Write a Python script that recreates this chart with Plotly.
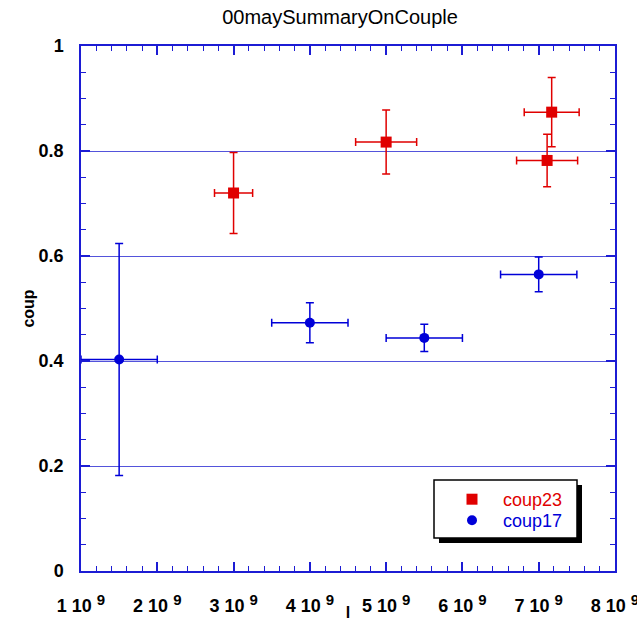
import plotly.graph_objects as go

# ---- data ----
x23 = [3.0e9, 5.0e9, 7.11e9, 7.17e9]
y23 = [0.720, 0.817, 0.782, 0.874]
ex23 = [0.25e9, 0.40e9, 0.40e9, 0.36e9]
ey23 = [0.077, 0.061, 0.050, 0.066]

x17 = [1.5e9, 4.0e9, 5.5e9, 7.0e9]
y17 = [0.403, 0.473, 0.444, 0.565]
ex17 = [0.5e9, 0.5e9, 0.5e9, 0.5e9]
ey17 = [0.221, 0.038, 0.026, 0.033]

xtick_vals = [1e9, 2e9, 3e9, 4e9, 5e9, 6e9, 7e9, 8e9]
xtick_mant = ["1", "2", "3", "4", "5", "6", "7", "8"]
xtick_text = [m + ' 10 <sup><span style="font-size:15px">9</span></sup>' for m in xtick_mant]

RED = "#e00000"
BLUE = "#0000d8"
AXC = "#1c1cd4"
FONT = "Liberation Sans, Arial, sans-serif"

fig = go.Figure()
fig.add_trace(go.Scatter(
    x=x23, y=y23, mode="markers",
    name='<span style="color:#e00000">coup23</span>',
    marker=dict(symbol="square", size=11, color=RED),
    error_x=dict(type="data", array=ex23, color=RED, thickness=1.5, width=4),
    error_y=dict(type="data", array=ey23, color=RED, thickness=1.5, width=4),
    legend="legend", showlegend=True,
))
fig.add_trace(go.Scatter(
    x=x17, y=y17, mode="markers",
    name='<span style="color:#0000d8">coup17</span>',
    marker=dict(symbol="circle", size=10, color=BLUE),
    error_x=dict(type="data", array=ex17, color=BLUE, thickness=1.5, width=4),
    error_y=dict(type="data", array=ey17, color=BLUE, thickness=1.5, width=4),
    legend="legend2", showlegend=True,
))

L, R, T, B = 81, 22, 46, 50
W, H = 637, 621
pw, ph = W - L - R, H - T - B

def px(xp):
    return (xp - L) / pw

def py(yp):
    return (H - B - yp) / ph

fig.update_layout(
    width=W, height=H, showlegend=True,
    margin=dict(l=L, r=R, t=T, b=B, autoexpand=False),
    paper_bgcolor="white", plot_bgcolor="white",
    font=dict(family=FONT, color="black"),
    title=dict(text="00maySummaryOnCouple", x=340 / W, xanchor="center",
               y=1 - 17 / H, yanchor="middle",
               font=dict(family=FONT, size=20, color="black")),
    xaxis=dict(
        range=[1e9, 8e9], tickmode="array", tickvals=xtick_vals, ticktext=xtick_text,
        ticks="inside", ticklen=9, tickwidth=1.5, tickcolor=AXC,
        minor=dict(ticks="inside", ticklen=5, tickwidth=1, tickcolor=AXC,
                   tick0=1e9, dtick=0.2e9, showgrid=False),
        showline=True, linecolor=AXC, linewidth=1.5, mirror="ticks",
        showgrid=False, zeroline=False,
        tickfont=dict(family=FONT, size=18, color="black", weight="bold"),
        ticklabelstandoff=18, ticklabeloverflow="allow",
        title=dict(text="l", font=dict(family=FONT, size=16, color="black", weight="bold"),
                   standoff=4),
    ),
    yaxis=dict(
        range=[0, 1], tick0=0, dtick=0.2,
        ticks="inside", ticklen=9, tickwidth=1.5, tickcolor=AXC,
        minor=dict(ticks="inside", ticklen=5, tickwidth=1, tickcolor=AXC,
                   tick0=0, dtick=0.05, showgrid=False),
        showline=True, linecolor=AXC, linewidth=1.5, mirror="ticks",
        showgrid=True, gridcolor="rgba(40,40,210,0.8)", gridwidth=1,
        zeroline=False,
        tickfont=dict(family=FONT, size=18, color="black", weight="bold"),
        ticklabelstandoff=12,
        title=dict(text="coup", font=dict(family=FONT, size=16, color="black", weight="bold"),
                   standoff=0),
    ),
    legend=dict(x=px(441), xanchor="left", y=py(481), yanchor="top",
                bgcolor="rgba(0,0,0,0)", borderwidth=0, itemwidth=52,
                font=dict(family=FONT, size=18), visible=True),
    legend2=dict(x=px(441), xanchor="left", y=py(502), yanchor="top",
                 bgcolor="rgba(0,0,0,0)", borderwidth=0, itemwidth=52,
                 font=dict(family=FONT, size=18), visible=True),
    shapes=[
        dict(type="rect", xref="paper", yref="paper", layer="below",
             x0=px(439), x1=px(582), y0=py(543), y1=py(485),
             fillcolor="black", line=dict(width=0)),
        dict(type="rect", xref="paper", yref="paper", layer="below",
             x0=px(434), x1=px(577), y0=py(538), y1=py(480),
             fillcolor="white", line=dict(color="black", width=1.5)),
    ],
)

fig.write_html("out.html")
